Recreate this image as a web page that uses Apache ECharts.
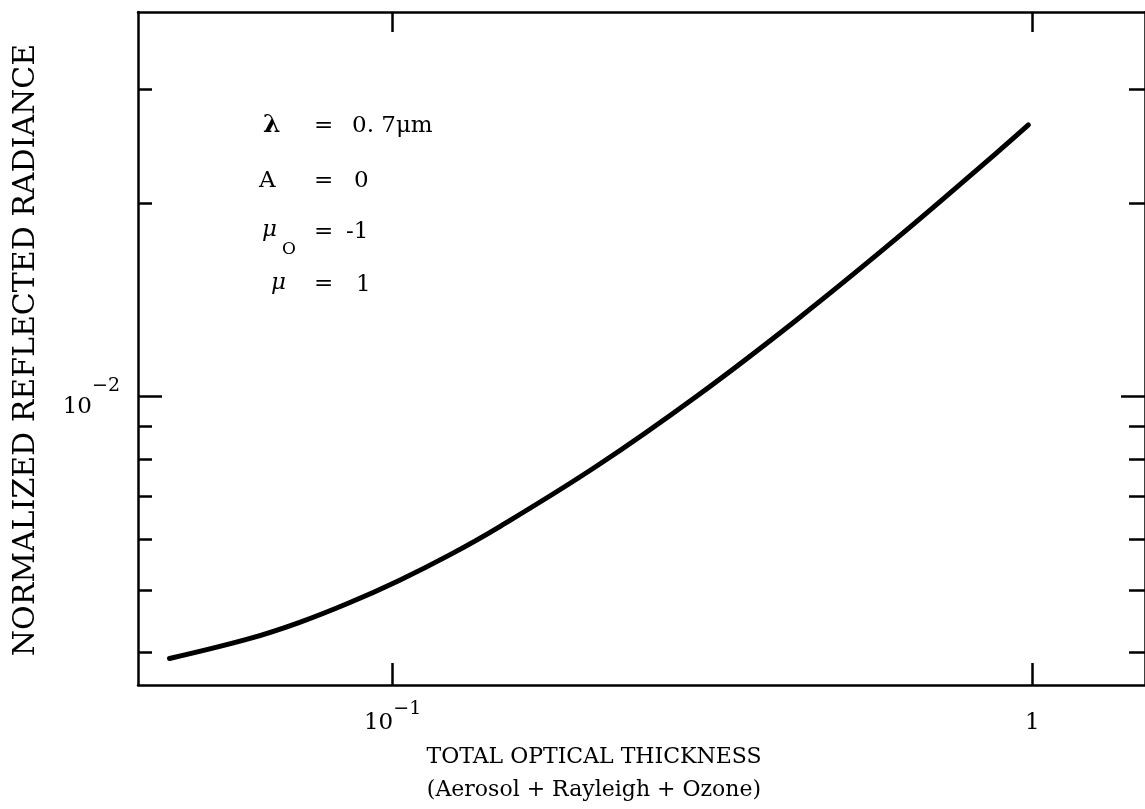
<!DOCTYPE html>
<html><head><meta charset="utf-8">
<script src="https://cdn.jsdelivr.net/npm/echarts@6/dist/echarts.min.js"></script>
<style>html,body{margin:0;padding:0;background:#fff}#c{width:1145px;height:809px}</style>
</head><body><div id="c"></div>
<script>
// Data (log-log)
const thickness = [0.0448, 0.0597, 0.0714, 0.0854, 0.1022, 0.1222, 0.1462, 0.2091, 0.2991, 0.4280, 0.6121, 0.8758, 0.9858];
const radiance  = [0.003914, 0.004202, 0.004451, 0.004774, 0.005172, 0.005657, 0.006255, 0.007810, 0.010018, 0.013152, 0.017574, 0.023832, 0.026428];
const xRange = [0.04, 1.5];
const yRange = [0.00356, 0.0396];
const xMajorTicks = [0.1, 1];
const yMajorTicks = [0.01];
const yMinorTicks = [0.004, 0.005, 0.006, 0.007, 0.008, 0.009, 0.02, 0.03];
const xTickLabels = [[0.1, '10', '−1'], [1, '1', '']];
const yTickLabels = [[0.01, '10', '−2']];

function fmt(table) {
  return function (v) {
    for (const [val, base, sup] of table) {
      if (Math.abs(Math.log10(v) - Math.log10(val)) < 1e-6) {
        return sup ? '{b|' + base + '}{s|' + sup + '}' : '{b|' + base + '}';
      }
    }
    return '';
  };
}
const FONT = '"DejaVu Serif", serif';
const line = { show: true, lineStyle: { color: '#000', width: 2.5 } };
function tick(len, vals) {
  return { show: true, inside: true, length: len, customValues: vals, lineStyle: { color: '#000', width: 2.5 } };
}
function yAx(pos, len, vals, showLine, labels) {
  return {
    type: 'log', logBase: 10, min: yRange[0], max: yRange[1], position: pos,
    axisLine: showLine ? line : { show: false },
    axisTick: tick(len, vals),
    splitLine: { show: false }, minorTick: { show: false },
    axisLabel: labels ? {
      show: true, customValues: yMajorTicks, margin: 18, formatter: fmt(yTickLabels), color: '#000',
      rich: {
        b: { fontFamily: FONT, fontSize: 23, color: '#000', padding: [22, 0, 0, 0] },
        s: { fontFamily: FONT, fontSize: 19, color: '#000', padding: [0, 0, 20, 0] }
      }
    } : { show: false }
  };
}
const chart = echarts.init(document.getElementById('c'), null, { renderer: 'canvas' });
const txt = (t, x, y, font, extra) => ({ type: 'text', x: x, y: y, style: Object.assign({ text: t, font: font, fill: '#000', textAlign: 'left', textVerticalAlign: 'middle' }, extra || {}) });
const F22 = '23px "DejaVu Serif"';
chart.setOption({
  animation: false,
  backgroundColor: '#fff',
  grid: { left: 138, right: -5, top: 12, bottom: 124 },
  xAxis: [
    {
      type: 'log', logBase: 10, min: xRange[0], max: xRange[1], position: 'bottom',
      axisLine: line, axisTick: tick(22, xMajorTicks), splitLine: { show: false }, minorTick: { show: false },
      axisLabel: {
        show: true, customValues: xMajorTicks, margin: 13, formatter: fmt(xTickLabels), color: '#000',
        rich: {
          b: { fontFamily: FONT, fontSize: 23, color: '#000', padding: [14, 0, 0, 0] },
          s: { fontFamily: FONT, fontSize: 19, color: '#000', padding: [0, 0, 14, 0] }
        }
      }
    },
    {
      type: 'log', logBase: 10, min: xRange[0], max: xRange[1], position: 'top',
      axisLine: line, axisTick: tick(20, xMajorTicks), splitLine: { show: false }, minorTick: { show: false },
      axisLabel: { show: false }
    }
  ],
  yAxis: [
    yAx('left', 24, yMajorTicks, true, true),
    yAx('left', 14, yMinorTicks, false, false),
    yAx('right', 24, yMajorTicks, true, false),
    yAx('right', 16, yMinorTicks, false, false)
  ],
  series: [{
    type: 'line', xAxisIndex: 0, yAxisIndex: 0, smooth: 0.4, showSymbol: false,
    lineStyle: { color: '#000', width: 5, cap: 'round' },
    data: thickness.map((x, i) => [x, radiance[i]])
  }],
  graphic: [
    {
      type: 'text', x: 26, y: 350, rotation: Math.PI / 2,
      style: { text: 'NORMALIZED REFLECTED RADIANCE', fontFamily: '"DejaVu Serif", serif', fontSize: 30, fill: '#000', textAlign: 'center', textVerticalAlign: 'middle' }
    },
    txt('TOTAL OPTICAL THICKNESS', 594, 757, '22px "DejaVu Serif"', { textAlign: 'center' }),
    txt('(Aerosol + Rayleigh + Ozone)', 594, 790, '22px "DejaVu Serif"', { textAlign: 'center' }),
    txt('λ', 263, 125, 'bold 25px "DejaVu Serif"'),
    txt('=', 314, 126, F22), txt('0. 7μm', 352, 126, F22),
    txt('A', 259, 181, F22),
    txt('=', 314, 181, F22), txt('0', 354, 181, F22),
    txt('μ', 262, 230, 'italic ' + F22), txt('O', 282, 250, '17px "DejaVu Serif"'),
    txt('=', 314, 232, F22), txt('-1', 346, 232, F22),
    txt('μ', 271, 283, 'italic ' + F22),
    txt('=', 314, 284, F22), txt('1', 356, 285, F22)
  ]
});
</script></body></html>
